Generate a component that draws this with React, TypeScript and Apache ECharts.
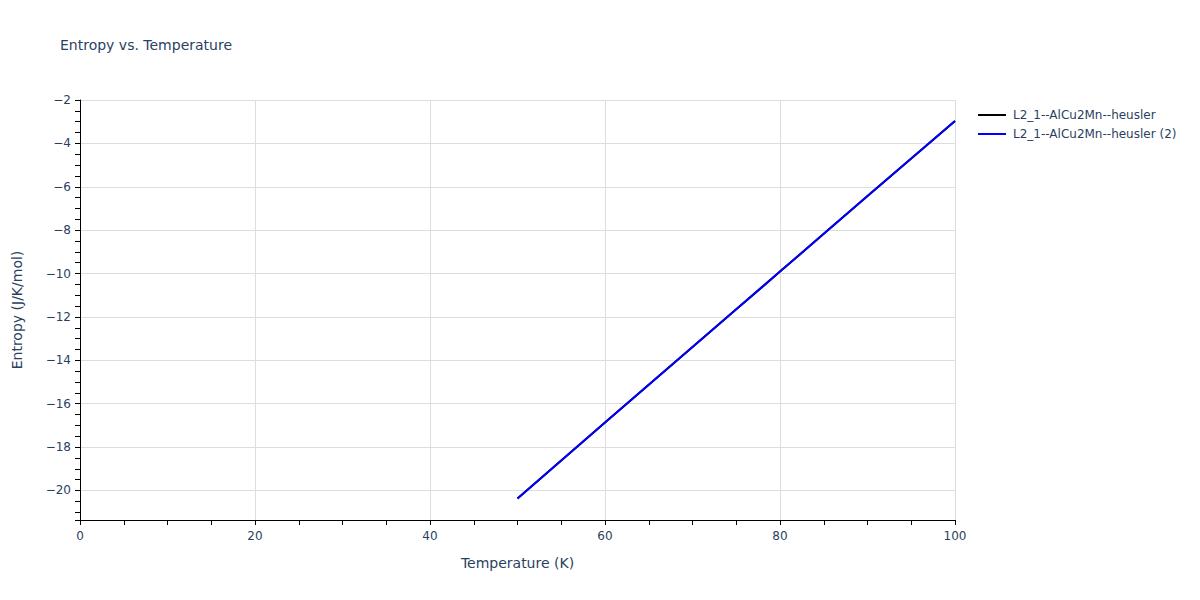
import React, { useEffect, useRef } from "react";
import * as echarts from "echarts";

const temperatures = [50, 55, 60, 65, 70, 75, 80, 85, 90, 95, 100];
const entropyA = [-20.37, -18.62, -16.87, -15.13, -13.39, -11.65, -9.91, -8.17, -6.43, -4.70, -2.97];
const entropyB = [-20.37, -18.62, -16.87, -15.13, -13.39, -11.65, -9.91, -8.17, -6.43, -4.70, -2.97];
const seriesNames = ["L2_1--AlCu2Mn--heusler", "L2_1--AlCu2Mn--heusler (2)"];
const seriesColors = ["#000000", "#0000ff"];

const FONT = '"DejaVu Sans", Verdana, sans-serif';
const TXT = "#2a3f5f";

export default function App() {
  const ref = useRef<HTMLDivElement>(null);
  useEffect(() => {
    if (!ref.current) return;
    const chart = echarts.init(ref.current, undefined, { renderer: "svg" });
    const mk = (vals: number[]) => temperatures.map((t, i) => [t, vals[i]]);
    chart.setOption({
      animation: false,
      backgroundColor: "#ffffff",
      textStyle: { fontFamily: FONT },
      title: {
        text: "Entropy vs. Temperature",
        left: 55,
        top: 33,
        textStyle: { fontFamily: FONT, fontSize: 14, fontWeight: "normal", color: TXT },
      },
      legend: {
        orient: "vertical",
        left: 978,
        top: 109,
        padding: 0,
        itemWidth: 28,
        itemHeight: 2,
        itemGap: 7,
        icon: "rect",
        textStyle: { fontFamily: FONT, fontSize: 12, color: TXT, padding: [0, 0, 0, 2] },
        data: seriesNames,
      },
      grid: { left: 80, right: 245, top: 100, bottom: 80, containLabel: false },
      xAxis: {
        type: "value",
        min: 0,
        max: 100,
        interval: 20,
        name: "Temperature (K)",
        nameLocation: "middle",
        nameGap: 36,
        nameTextStyle: { fontFamily: FONT, fontSize: 14, color: TXT },
        axisLine: { show: true, lineStyle: { color: "#000", width: 1 } },
        axisTick: { show: true, length: 5, lineStyle: { color: "#000" } },
        minorTick: { show: true, splitNumber: 4, length: 5, lineStyle: { color: "#000" } },
        axisLabel: { fontFamily: FONT, fontSize: 12, color: TXT, margin: 10 },
        splitLine: { show: true, lineStyle: { color: "#dddddd", width: 1 } },
      },
      yAxis: {
        type: "value",
        min: -21.36,
        max: -2,
        splitNumber: 10,
        name: "Entropy (J/K/mol)",
        nameLocation: "middle",
        nameGap: 56,
        nameTextStyle: { fontFamily: FONT, fontSize: 14, color: TXT },
        axisLine: { show: true, onZero: false, lineStyle: { color: "#000", width: 1 } },
        axisTick: { show: true, length: 5, lineStyle: { color: "#000" } },
        minorTick: { show: true, splitNumber: 4, length: 5, lineStyle: { color: "#000" } },
        axisLabel: {
          fontFamily: FONT,
          fontSize: 12,
          color: TXT,
          margin: 9,
          showMinLabel: false,
          formatter: (v: number) => (v < 0 ? "\u2212" + Math.abs(v) : String(v)),
        },
        splitLine: { show: true, lineStyle: { color: "#dddddd", width: 1 } },
      },
      series: [
        {
          name: seriesNames[0],
          type: "line",
          data: mk(entropyA),
          showSymbol: false,
          symbol: "none",
          lineStyle: { color: seriesColors[0], width: 2 },
          itemStyle: { color: seriesColors[0] },
        },
        {
          name: seriesNames[1],
          type: "line",
          data: mk(entropyB),
          showSymbol: false,
          symbol: "none",
          lineStyle: { color: seriesColors[1], width: 2 },
          itemStyle: { color: seriesColors[1] },
        },
      ],
    });
    return () => chart.dispose();
  }, []);
  return <div ref={ref} style={{ width: 1200, height: 600, position: "absolute", left: 0, top: 0 }} />;
}
